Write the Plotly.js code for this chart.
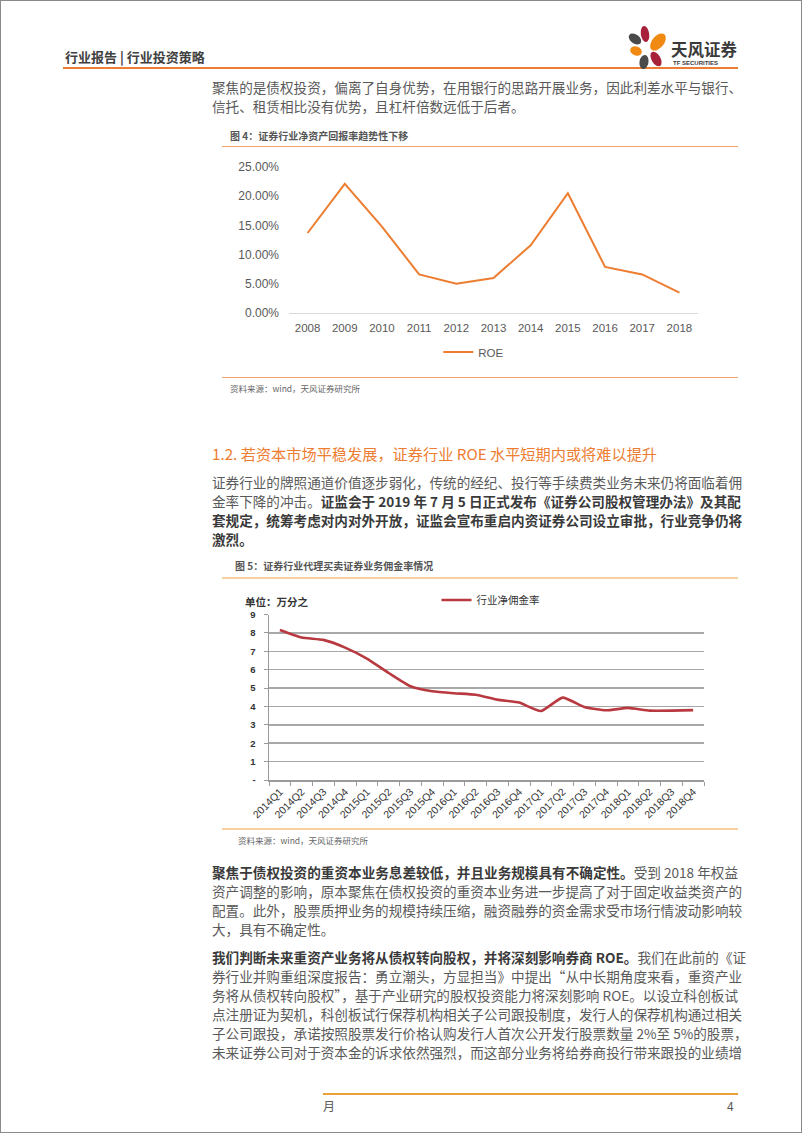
<!DOCTYPE html>
<html>
<head>
<meta charset="utf-8">
<script src="https://cdn.plot.ly/plotly-3.0.1.min.js"></script>
<style>
  html, body { margin:0; padding:0; background:#fff; }
  body { width:802px; height:1133px; position:relative; overflow:hidden;
         font-family:"Noto Sans CJK SC","Noto Sans",sans-serif; }
  #frame { position:absolute; left:0; top:0; width:802px; height:1133px; box-sizing:border-box;
           border:1px solid #8a8a8a; }
  .abs { position:absolute; }
  .hline { position:absolute; height:0; }
  .para { position:absolute; left:212px; width:526px; font-size:13.6px; line-height:19px; color:#5a5a5a; }
  .para div { text-align:justify; text-align-last:justify; white-space:nowrap; height:19px; }
  .para div.last { text-align-last:left; }
  .para b { color:#3a3a3a; font-weight:700; }
  .figt { position:absolute; font-size:10px; font-weight:700; color:#555; line-height:12px; }
  .src { position:absolute; font-size:8.5px; color:#666; line-height:10px; }
</style>
</head>
<body>
<div id="frame"></div>

<!-- header -->
<div class="abs" style="left:65px; top:48px; font-size:13px; font-weight:700; color:#404040; line-height:18px;">行业报告 | 行业投资策略</div>
<div class="hline" style="left:63px; top:67px; width:675px; border-top:2px solid #ED7D31;"></div>
<svg class="abs" style="left:626px; top:24px;" width="46" height="46" viewBox="0 0 46 46">
  <ellipse cx="19" cy="10" rx="4.2" ry="8" fill="#A8213A" transform="rotate(-8 19 10)"/>
  <ellipse cx="32" cy="18" rx="6" ry="10" fill="#F08A12" transform="rotate(40 32 18)"/>
  <ellipse cx="9" cy="15" rx="4.5" ry="7" fill="#4a4a4a" transform="rotate(-55 9 15)"/>
  <ellipse cx="10" cy="27" rx="4.5" ry="6" fill="#F08A12" transform="rotate(-70 10 27)"/>
  <ellipse cx="30" cy="35" rx="4.5" ry="8" fill="#A8213A" transform="rotate(-30 30 35)"/>
  <ellipse cx="18" cy="38" rx="4.5" ry="7" fill="#4a4a4a" transform="rotate(10 18 38)"/>
</svg>
<div class="abs" style="left:671px; top:39px; font-size:16.5px; font-weight:700; color:#3a3a3a; line-height:20px;">天风证券</div>
<div class="abs" style="left:673px; top:60px; font-size:6px; font-weight:700; color:#3a3a3a; line-height:7px; font-family:'Liberation Sans',sans-serif;">TF SECURITIES</div>

<!-- paragraph 1 -->
<div class="para" style="top:78px;">
  <div>聚焦的是债权投资，偏离了自身优势，在用银行的思路开展业务，因此利差水平与银行、</div>
  <div class="last">信托、租赁相比没有优势，且杠杆倍数远低于后者。</div>
</div>

<!-- figure 4 -->
<div class="figt" style="left:230px; top:130px;">图 4：证券行业净资产回报率趋势性下移</div>
<div class="hline" style="left:222px; top:146px; width:516px; border-top:1px solid #F2A46A;"></div>
<div id="chart1" class="abs" style="left:222px; top:150px; width:516px; height:225px;"></div>
<div class="hline" style="left:222px; top:377px; width:516px; border-top:1px solid #F2A46A;"></div>
<div class="src" style="left:230px; top:383px;">资料来源：wind，天风证券研究所</div>

<!-- heading -->
<div class="abs" style="left:212px; top:442px; font-size:15.2px; color:#ED7D31; line-height:22px; white-space:nowrap;">1.2. 若资本市场平稳发展，证券行业 ROE 水平短期内或将难以提升</div>

<!-- paragraph 2 -->
<div class="para" style="top:473px;">
  <div>证券行业的牌照通道价值逐步弱化，传统的经纪、投行等手续费类业务未来仍将面临着佣</div>
  <div>金率下降的冲击。<b>证监会于 2019 年 7 月 5 日正式发布《证券公司股权管理办法》及其配</b></div>
  <div><b>套规定，统筹考虑对内对外开放，证监会宣布重启内资证券公司设立审批，行业竞争仍将</b></div>
  <div class="last"><b>激烈。</b></div>
</div>

<!-- figure 5 -->
<div class="figt" style="left:235px; top:560px;">图 5：证券行业代理买卖证券业务佣金率情况</div>
<div class="hline" style="left:222px; top:577px; width:516px; border-top:2px solid #F5CFA0;"></div>
<div id="chart2" class="abs" style="left:222px; top:582px; width:516px; height:250px;"></div>
<div class="hline" style="left:222px; top:828px; width:516px; border-top:2px solid #F5CFA0;"></div>
<div class="src" style="left:238px; top:835px;">资料来源：wind，天风证券研究所</div>

<!-- paragraph 3 -->
<div class="para" style="top:863px;">
  <div><b>聚焦于债权投资的重资本业务息差较低，并且业务规模具有不确定性。</b>受到 2018 年权益</div>
  <div>资产调整的影响，原本聚焦在债权投资的重资本业务进一步提高了对于固定收益类资产的</div>
  <div>配置。此外，股票质押业务的规模持续压缩，融资融券的资金需求受市场行情波动影响较</div>
  <div class="last">大，具有不确定性。</div>
</div>

<!-- paragraph 4 -->
<div class="para" style="top:948px;">
  <div><b>我们判断未来重资产业务将从债权转向股权，并将深刻影响券商 ROE。</b>我们在此前的《证</div>
  <div>券行业并购重组深度报告：勇立潮头，方显担当》中提出“从中长期角度来看，重资产业</div>
  <div>务将从债权转向股权”，基于产业研究的股权投资能力将深刻影响 ROE。以设立科创板试</div>
  <div>点注册证为契机，科创板试行保荐机构相关子公司跟投制度，发行人的保荐机构通过相关</div>
  <div>子公司跟投，承诺按照股票发行价格认购发行人首次公开发行股票数量 2%至 5%的股票，</div>
  <div>未来证券公司对于资本金的诉求依然强烈，而这部分业务将给券商投行带来跟投的业绩增</div>
</div>

<!-- footer -->
<div class="hline" style="left:323px; top:1093px; width:415px; border-top:2px solid #E9A23B;"></div>
<div class="abs" style="left:323px; top:1098px; font-size:12px; color:#595959; line-height:16px;">月</div>
<div class="abs" style="left:727px; top:1098px; font-size:12px; color:#595959; line-height:16px;">4</div>

<script>
// ---------- Figure 4 data ----------
var roeYears  = ['2008','2009','2010','2011','2012','2013','2014','2015','2016','2017','2018'];
var roeValues = [0.137, 0.221, 0.148, 0.066, 0.050, 0.060, 0.116, 0.205, 0.079, 0.066, 0.035];
var roeTicks  = [0, 0.05, 0.10, 0.15, 0.20, 0.25];

// ---------- Figure 5 data ----------
var quarters = ['2014Q1','2014Q2','2014Q3','2014Q4','2015Q1','2015Q2','2015Q3','2015Q4',
                '2016Q1','2016Q2','2016Q3','2016Q4','2017Q1','2017Q2','2017Q3','2017Q4',
                '2018Q1','2018Q2','2018Q3','2018Q4'];
var commissionRate = [8.16, 7.75, 7.62, 7.20, 6.60, 5.82, 5.10, 4.83,
                      4.72, 4.64, 4.37, 4.21, 3.75, 4.48, 3.97, 3.79,
                      3.92, 3.77, 3.77, 3.80];
var rateTickVals = [0,1,2,3,4,5,6,7,8,9];
var rateTickText = ['-','1','2','3','4','5','6','7','8','9'];

var cfg = {displayModeBar:false, staticPlot:true};

Plotly.newPlot('chart1', [{
  x: roeYears, y: roeValues, type:'scatter', mode:'lines', name:'ROE',
  line:{color:'#ED7D31', width:2}
}], {
  width:516, height:225,
  margin:{l:67, r:40, t:17, b:62},
  paper_bgcolor:'#fff', plot_bgcolor:'#fff',
  font:{family:'Liberation Sans, Arial, sans-serif', color:'#595959', size:11.5},
  xaxis:{type:'category', range:[-0.5,10.5], showgrid:false, zeroline:false, automargin:false,
         showline:true, linecolor:'#d9d9d9', linewidth:1, ticks:'', ticklabelstandoff:4,
         tickfont:{size:11.5, color:'#595959'}},
  yaxis:{range:[0,0.25], tickvals:roeTicks, tickformat:'.2%', showgrid:false, automargin:false,
         zeroline:false, showline:false, ticks:'', ticklabelstandoff:9,
         tickfont:{size:12, color:'#595959'}},
  showlegend:true,
  legend:{orientation:'h', x:0.365, xanchor:'left', yref:'container', y:0.102, yanchor:'middle',
          itemwidth:30, font:{size:11.5, color:'#595959'}, bgcolor:'rgba(0,0,0,0)'}
}, cfg);

Plotly.newPlot('chart2', [{
  x: quarters, y: commissionRate, type:'scatter', mode:'lines', name:'行业净佣金率',
  line:{color:'#B8393F', width:2.6, shape:'spline', smoothing:0.5}
}], {
  width:516, height:250,
  margin:{l:47, r:34, t:31, b:52},
  paper_bgcolor:'#fff', plot_bgcolor:'#fff',
  font:{family:'Liberation Sans, Arial, sans-serif', color:'#333', size:9},
  xaxis:{type:'category', range:[-0.5,19.5], showgrid:false, zeroline:false, automargin:false,
         showline:true, linecolor:'#9a9a9a', linewidth:1.5,
         ticks:'outside', tickson:'boundaries', ticklen:4, tickcolor:'#9a9a9a', tickwidth:1,
         tickangle:-45, tickfont:{size:10.5, color:'#333'}},
  yaxis:{range:[0,9], tickvals:rateTickVals, ticktext:rateTickText, automargin:false,
         showgrid:true, gridcolor:'#a8a8a8', gridwidth:1.5, zeroline:false,
         showline:true, linecolor:'#9a9a9a', linewidth:1.5,
         ticks:'outside', ticklen:4, tickcolor:'#9a9a9a', ticklabelstandoff:6,
         tickfont:{size:9.5, color:'#333', weight:700}},
  showlegend:true,
  legend:{orientation:'h', x:0.385, xanchor:'left', yref:'container', y:0.928, yanchor:'middle',
          itemwidth:30, font:{size:10.5, color:'#333', family:'Noto Sans CJK SC'},
          bgcolor:'rgba(0,0,0,0)'},
  annotations:[{text:'<b>单位：万分之</b>', xref:'paper', yref:'paper', x:-0.06, y:1.078,
                xanchor:'left', yanchor:'middle', showarrow:false,
                font:{family:'Noto Sans CJK SC', size:10.5, color:'#333'}}]
}, cfg);
</script>
</body>
</html>
